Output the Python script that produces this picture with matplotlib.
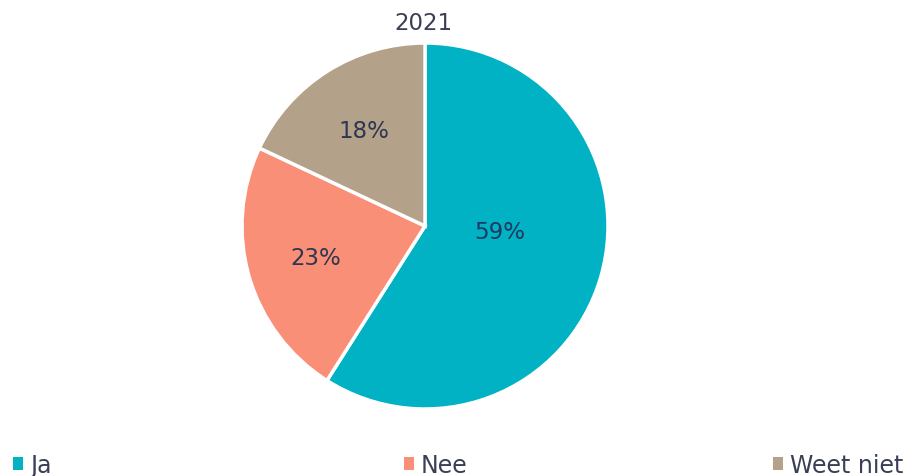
import matplotlib
matplotlib.use("Agg")
import matplotlib.pyplot as plt
from matplotlib.patches import Patch
import numpy as np

title = "2021"
categories = ["Ja", "Nee", "Weet niet"]
values = [59, 23, 18]
colors = ["#00B2C4", "#FA8F78", "#B3A189"]
text_color = "#2E3650"

W, H = 918, 477
fig = plt.figure(figsize=(W / 100, H / 100), dpi=100)
fig.patch.set_facecolor("white")

cx, cy, r = 425, 227, 183
ax = fig.add_axes([(cx - r) / W, (H - cy - r) / H, 2 * r / W, 2 * r / H])
wedges, texts, autotexts = ax.pie(
    values, colors=colors, startangle=90, counterclock=False,
    autopct=lambda p: f"{p:.0f}%", pctdistance=0.62,
    wedgeprops=dict(edgecolor="white", linewidth=2.5),
    textprops=dict(color=text_color, fontsize=16.5, family="DejaVu Sans"),
    radius=1.0,
)
# Excel places the large slice's label nearer the centre
theta = np.deg2rad(-4)
autotexts[0].set_position((0.41 * np.cos(theta), 0.41 * np.sin(theta)))
autotexts[0].set_color("#1F3A60")
ax.set_xlim(-1, 1)
ax.set_ylim(-1, 1)
ax.set_aspect("equal")
ax.axis("off")

fig.text(423 / W, 1 - 24 / H, title, ha="center", va="center",
         fontsize=16.5, color="#3A3F55")

legend_x = [13, 404, 773]
for cat, col, lx in zip(categories, colors, legend_x):
    fig.legend(handles=[Patch(facecolor=col, edgecolor="none")], labels=[cat],
               loc="center left", bbox_to_anchor=(lx / W, 1 - 466 / H),
               frameon=False, fontsize=17, handlelength=0.42, handleheight=0.42,
               handletextpad=0.3, borderaxespad=0, borderpad=0,
               labelcolor="#3A3F55")

fig.savefig("out.png", dpi=100, facecolor="white")
